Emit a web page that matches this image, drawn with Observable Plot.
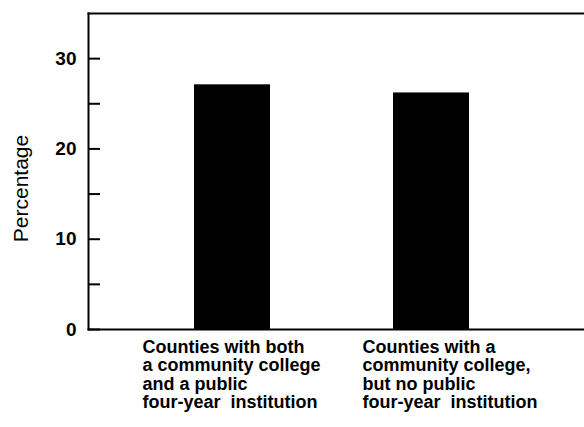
<!DOCTYPE html>
<html>
<head>
<meta charset="utf-8">
<script src="https://cdn.jsdelivr.net/npm/d3@7"></script>
<script src="https://cdn.jsdelivr.net/npm/@observablehq/plot@0.6"></script>
<style>
  html, body { margin: 0; padding: 0; background: #fff; }
  svg { display: block; }
</style>
</head>
<body>
<div id="chart"></div>
<script>
const categories = [
  "Counties with both\na community college\nand a public\nfour-year  institution",
  "Counties with a\ncommunity college,\nbut no public\nfour-year  institution"
];
const values = [27.1, 26.2];
const majorTicks = [0, 10, 20, 30];
const minorTicks = [5, 15, 25];
const yLabel = "Percentage";

const data = categories.map((c, i) => ({category: c, value: values[i]}));

const chart = Plot.plot({
  width: 584,
  height: 427,
  marginTop: 13,
  marginBottom: 98,
  marginLeft: 88,
  marginRight: 1,
  style: {fontFamily: "'Liberation Sans', Arial, sans-serif", background: "#fff", color: "#000"},
  x: {domain: categories, paddingInner: 0.62, paddingOuter: 0.55, align: 0.483, axis: null},
  y: {domain: [0, 35], axis: null},
  marks: [
    Plot.barY(data, {x: "category", y: "value", fill: "#000"}),
    Plot.axisY({ticks: [...majorTicks, ...minorTicks], tickSize: -12, strokeWidth: 2, text: null, label: null}),
    Plot.axisY({ticks: majorTicks, tickSize: 0, tickPadding: 12, fontSize: 19, fontWeight: "bold", label: null}),
    Plot.text([yLabel], {frameAnchor: "left", textAnchor: "middle", rotate: -90, dx: -67, dy: 17,
      fontSize: 21, text: d => d}),
    Plot.frame({anchor: "left", strokeWidth: 2}),
    Plot.frame({anchor: "top", strokeWidth: 2}),
    Plot.frame({anchor: "bottom", strokeWidth: 2}),
    Plot.text(categories, {filter: d => d === categories[0], x: d => d, frameAnchor: "bottom",
      textAnchor: "start", lineAnchor: "top", dy: 10, dx: -90, lineHeight: 1.03,
      fontSize: 18, fontWeight: "bold"}),
    Plot.text(categories, {filter: d => d === categories[1], x: d => d, frameAnchor: "bottom",
      textAnchor: "start", lineAnchor: "top", dy: 10, dx: -69, lineHeight: 1.03,
      fontSize: 18, fontWeight: "bold"})
  ]
});
document.getElementById("chart").appendChild(chart);
</script>
</body>
</html>
